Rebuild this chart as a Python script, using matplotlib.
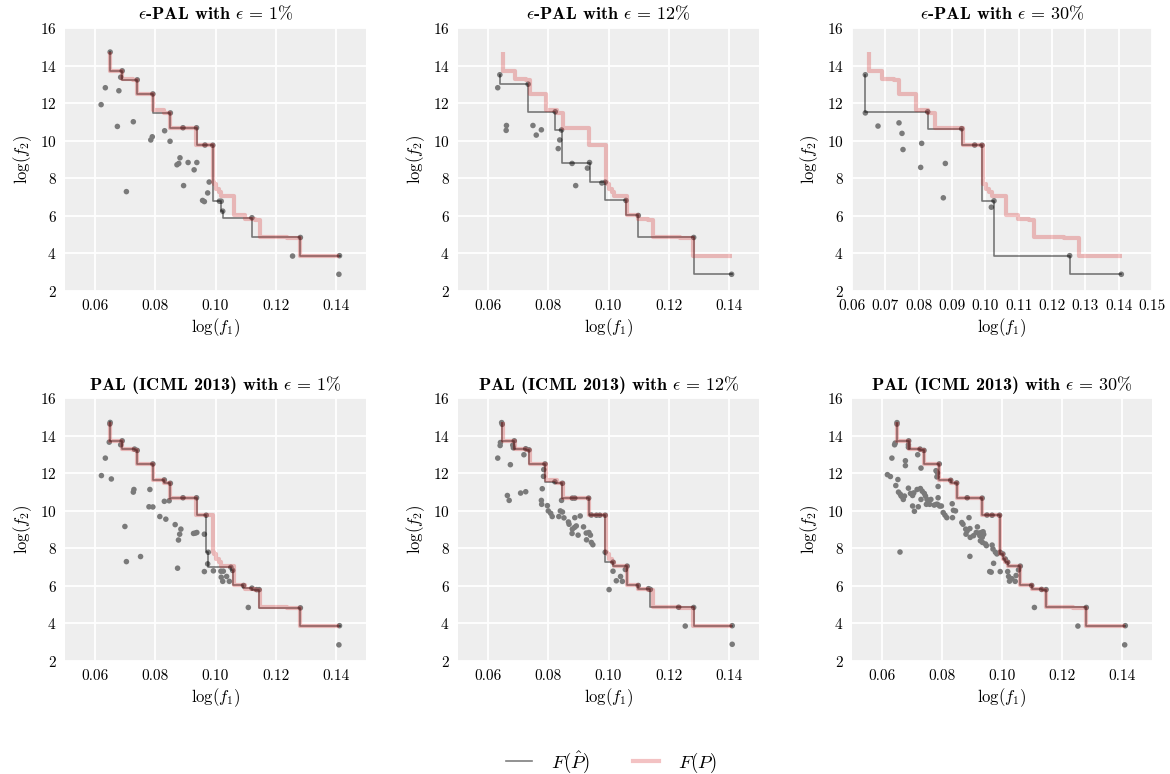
import matplotlib
matplotlib.use('Agg')
import matplotlib.pyplot as plt
from matplotlib.lines import Line2D
import numpy as np

plt.rcParams.update({
    'font.family': ['cmr10', 'DejaVu Serif'],
    'mathtext.fontset': 'cm',
    'axes.formatter.use_mathtext': True,
    'axes.unicode_minus': False,
})

# ---------------- data ----------------
titles = [r'$\epsilon$-PAL with $\epsilon \,=\, 1\%$',
          r'$\epsilon$-PAL with $\epsilon \,=\, 12\%$',
          r'$\epsilon$-PAL with $\epsilon \,=\, 30\%$',
          r'PAL (ICML 2013) with $\epsilon \,=\, 1\%$',
          r'PAL (ICML 2013) with $\epsilon \,=\, 12\%$',
          r'PAL (ICML 2013) with $\epsilon \,=\, 30\%$']

# true Pareto front F(P)
true_f1 = [0.0650, 0.0689, 0.0727, 0.0740, 0.0791, 0.0829, 0.0849, 0.0884, 0.0934,
           0.0950, 0.0967, 0.0992, 0.0994, 0.1003, 0.1011, 0.1019, 0.1061, 0.1099,
           0.1132, 0.1147, 0.1236, 0.1281, 0.1411]
true_f2 = [14.70, 13.72, 13.28, 13.21, 12.49, 11.62, 11.48, 10.69, 10.67,
           9.77, 9.76, 9.76, 7.79, 7.70, 7.43, 7.26, 7.05, 6.02,
           5.81, 5.80, 4.87, 4.82, 3.88]

# sampled points, panel 1 (eps-PAL, 1%)
p1_f1 = [0.0650, 0.0690, 0.0685, 0.0634, 0.0679, 0.0620, 0.0674, 0.0727, 0.0740, 0.0792,
         0.0790, 0.0785, 0.0831, 0.0849, 0.0850, 0.0892, 0.0937, 0.0882, 0.0872, 0.0878,
         0.0909, 0.0938, 0.0929, 0.0894, 0.0704, 0.0965, 0.0991, 0.0979, 0.0974, 0.0957,
         0.0963, 0.1013, 0.1019, 0.1024, 0.1121, 0.1282, 0.1256, 0.1412, 0.1410]
p1_f2 = [14.72, 13.72, 13.38, 12.82, 12.66, 11.92, 10.76, 11.01, 13.24, 12.49,
         10.21, 10.04, 10.53, 9.97, 11.48, 10.69, 10.69, 9.09, 8.72, 8.79,
         8.84, 8.84, 8.45, 7.61, 7.29, 9.77, 9.76, 7.80, 7.22, 6.82,
         6.76, 6.78, 6.78, 6.25, 5.90, 4.85, 3.86, 3.88, 2.89]

# panel 2 (eps-PAL, 12%)
p2_f1 = [0.0639, 0.0632, 0.0661, 0.0660, 0.0733, 0.0749, 0.0760, 0.0777, 0.0823, 0.0844,
         0.0838, 0.0833, 0.0879, 0.0937, 0.0930, 0.0891, 0.0978, 0.0989, 0.1058, 0.1099,
         0.1283, 0.1409]
p2_f2 = [13.51, 12.82, 10.81, 10.55, 13.01, 10.81, 10.30, 10.58, 11.54, 10.57,
         10.04, 9.58, 8.79, 8.84, 8.54, 7.61, 7.75, 7.79, 6.82, 6.02,
         4.85, 2.89]

# panel 3 (eps-PAL, 30%)
p3_f1 = [0.0640, 0.0640, 0.0678, 0.0741, 0.0750, 0.0753, 0.0809, 0.0806, 0.0827, 0.0880,
         0.0874, 0.0929, 0.0968, 0.0990, 0.1018, 0.1026, 0.1253, 0.1408]
p3_f2 = [13.51, 11.48, 10.78, 10.95, 10.39, 9.53, 9.86, 8.58, 11.54, 8.79,
         6.96, 10.64, 9.77, 9.76, 6.46, 6.80, 3.88, 2.89]

# panel 4 (PAL, 1%)
p4_f1 = [0.0650, 0.0649, 0.0690, 0.0647, 0.0685, 0.0731, 0.0740, 0.0634, 0.0792, 0.0621,
         0.0654, 0.0830, 0.0850, 0.0729, 0.0727, 0.0782, 0.0830, 0.0846, 0.0892, 0.0937,
         0.0779, 0.0792, 0.0969, 0.0815, 0.0835, 0.0866, 0.0885, 0.0881, 0.0877, 0.0927,
         0.0933, 0.0938, 0.0963, 0.0699, 0.0751, 0.0704, 0.0874, 0.0976, 0.0974, 0.1051,
         0.1057, 0.0963, 0.0993, 0.1018, 0.1026, 0.1019, 0.1037, 0.1024, 0.1046, 0.1093,
         0.1121, 0.1137, 0.1145, 0.1109, 0.1282, 0.1412, 0.1410]
p4_f2 = [14.70, 14.62, 13.72, 13.65, 13.51, 13.28, 13.21, 12.80, 12.49, 11.87,
         11.69, 11.64, 11.46, 11.13, 10.99, 11.13, 10.50, 10.53, 10.69, 10.69,
         10.21, 10.20, 9.76, 9.69, 9.55, 9.26, 9.02, 8.75, 8.44, 8.79,
         8.81, 8.84, 8.75, 9.16, 7.56, 7.29, 6.94, 7.79, 7.17, 6.99,
         6.82, 6.76, 6.80, 6.78, 6.78, 6.46, 6.50, 6.24, 6.24, 6.02,
         5.88, 5.80, 5.80, 4.85, 4.83, 3.88, 2.86]

# panel 5 (PAL, 12%)
p5_f1 = [0.0645, 0.0647, 0.0641, 0.0640, 0.0687, 0.0682, 0.0684, 0.0725, 0.0736, 0.0719,
         0.0632, 0.0674, 0.0789, 0.0785, 0.0784, 0.0822, 0.0847, 0.0780, 0.0664, 0.0670,
         0.0708, 0.0725, 0.0777, 0.0778, 0.0844, 0.0880, 0.0888, 0.0934, 0.0797, 0.0800,
         0.0808, 0.0813, 0.0835, 0.0840, 0.0847, 0.0852, 0.0867, 0.0869, 0.0888, 0.0906,
         0.0880, 0.0887, 0.0893, 0.0879, 0.0899, 0.0917, 0.0926, 0.0935, 0.0940, 0.0927,
         0.0943, 0.0948, 0.0943, 0.0960, 0.0971, 0.0989, 0.0989, 0.1015, 0.1062, 0.1015,
         0.1026, 0.1040, 0.1046, 0.1056, 0.1002, 0.1099, 0.1133, 0.1139, 0.1233, 0.1283,
         0.1255, 0.1411, 0.1411]
p5_f2 = [14.69, 14.60, 13.63, 13.47, 13.72, 13.49, 13.35, 13.30, 13.24, 12.98,
         12.80, 12.45, 12.49, 12.19, 11.83, 11.54, 11.46, 11.17, 10.81, 10.55,
         10.94, 11.01, 10.55, 10.34, 10.55, 10.67, 10.67, 10.67, 10.27, 9.99,
         9.86, 9.69, 9.69, 9.99, 9.93, 9.62, 9.40, 9.28, 9.63, 9.72,
         9.02, 9.11, 9.19, 8.79, 8.70, 9.14, 8.81, 8.84, 8.70, 8.45,
         8.31, 8.19, 9.77, 9.76, 9.76, 9.76, 7.79, 7.26, 7.05, 6.78,
         6.27, 6.50, 6.24, 6.87, 5.80, 6.02, 5.85, 5.81, 4.86, 4.85,
         3.86, 3.88, 2.89]

# panel 6 (PAL, 30%)
p6_f1 = [0.0650, 0.0650, 0.0689, 0.0727, 0.0740, 0.0791, 0.0829, 0.0849, 0.0884, 0.0934,
         0.0950, 0.0967, 0.0992, 0.0994, 0.1003, 0.1011, 0.1019, 0.1061, 0.1099, 0.1132,
         0.1147, 0.1281, 0.1411,
         0.0642, 0.0644, 0.0688, 0.0688, 0.0633, 0.0678, 0.0678, 0.0719, 0.0730, 0.0780,
         0.0785, 0.0783, 0.0787, 0.0618, 0.0628, 0.0653, 0.0646, 0.0655, 0.0661, 0.0664,
         0.0671, 0.0669, 0.0675, 0.0688, 0.0695, 0.0702, 0.0706, 0.0717, 0.0728, 0.0734,
         0.0730, 0.0741, 0.0745, 0.0750, 0.0748, 0.0754, 0.0759, 0.0763, 0.0774, 0.0781,
         0.0787, 0.0785, 0.0792, 0.0798, 0.0702, 0.0721, 0.0708, 0.0834, 0.0838, 0.0845,
         0.0835, 0.0804, 0.0810, 0.0816, 0.0866, 0.0870, 0.0890, 0.0879, 0.0884, 0.0893,
         0.0880, 0.0894, 0.0905, 0.0918, 0.0914, 0.0923, 0.0931, 0.0937, 0.0926, 0.0934,
         0.0939, 0.0928, 0.0935, 0.0945, 0.0948, 0.0967, 0.0970, 0.0978, 0.0983, 0.0893,
         0.0660, 0.0959, 0.0964, 0.0972, 0.0994, 0.1019, 0.1022, 0.1025, 0.1033, 0.1044,
         0.1047, 0.1055, 0.1108, 0.1253, 0.1409]
p6_f2 = [14.69, 14.61, 13.72, 13.28, 13.21, 12.49, 11.62, 11.48, 10.69, 10.67,
         9.77, 9.76, 9.76, 7.79, 7.70, 7.43, 7.26, 7.05, 6.02, 5.81,
         5.80, 4.85, 3.88,
         13.51, 13.60, 13.51, 13.38, 12.80, 12.66, 12.40, 12.98, 12.27, 12.13,
         12.01, 11.80, 11.29, 11.92, 11.82, 11.66, 11.34, 10.99, 10.88, 10.78,
         10.60, 10.73, 10.78, 11.20, 10.92, 10.81, 10.95, 11.13, 11.18, 11.04,
         10.60, 10.92, 10.78, 10.60, 10.34, 10.43, 10.34, 10.60, 10.30, 10.34,
         10.69, 10.34, 10.25, 10.25, 10.25, 10.21, 9.97, 10.37, 10.02, 9.99,
         9.63, 9.90, 9.76, 9.63, 9.37, 9.28, 9.63, 9.02, 8.93, 9.05,
         8.75, 8.58, 8.67, 9.14, 8.84, 8.81, 8.84, 8.88, 8.67, 8.58,
         8.74, 8.40, 8.31, 8.23, 8.14, 8.17, 7.96, 7.79, 7.70, 7.57,
         7.80, 6.76, 6.73, 7.20, 6.76, 6.76, 6.50, 6.25, 6.38, 6.24,
         6.55, 6.85, 4.85, 3.86, 2.86]

samples = [(p1_f1, p1_f2), (p2_f1, p2_f2), (p3_f1, p3_f2),
           (p4_f1, p4_f2), (p5_f1, p5_f2), (p6_f1, p6_f2)]


def pareto_front(xs, ys):
    """Non-dominated points (both objectives maximised), sorted by f1."""
    pts = list(zip(xs, ys))
    front = []
    for (x, y) in pts:
        dominated = any((x2 >= x and y2 >= y) and (x2 > x or y2 > y) for (x2, y2) in pts)
        if not dominated:
            front.append((x, y))
    front = sorted(set(front))
    return [p[0] for p in front], [p[1] for p in front]


# ---------------- figure ----------------
W, H = 1170, 774
fig = plt.figure(figsize=(W / 100, H / 100), dpi=100)

col_left = [65, 458, 852]
col_w = [301, 301, 300]
row_top = [28, 398]
row_h = 263

bg = '#eeeeee'
dot_c = '#7a7a7a'
pink = '#d62728'

for i in range(6):
    r, c = divmod(i, 3)
    left = col_left[c] / W
    bottom = (H - row_top[r] - row_h) / H
    ax = fig.add_axes([left, bottom, col_w[c] / W, row_h / H])
    ax.set_facecolor(bg)
    for s in ax.spines.values():
        s.set_visible(False)
    ax.grid(True, color='white', linewidth=1.3)
    ax.set_axisbelow(True)

    xs, ys = samples[i]
    ax.scatter(xs, ys, s=16, color=dot_c, edgecolors='none', zorder=3)
    fx, fy = pareto_front(xs, ys)
    ax.plot(fx, fy, drawstyle='steps-pre', color='black', alpha=0.5, lw=1.2, zorder=4)
    ax.plot(true_f1, true_f2, drawstyle='steps-pre', color=pink, alpha=0.28, lw=3.0,
            zorder=5, solid_capstyle='butt')

    ax.set_ylim(2, 16)
    ax.set_yticks([2, 4, 6, 8, 10, 12, 14, 16])
    if c == 2 and r == 0:
        ax.set_xlim(0.06, 0.15)
        ax.set_xticks(np.round(np.arange(0.06, 0.1501, 0.01), 2))
    else:
        ax.set_xlim(0.05, 0.15)
        ax.set_xticks([0.06, 0.08, 0.10, 0.12, 0.14])
    ax.xaxis.set_major_formatter(matplotlib.ticker.FormatStrFormatter('%.2f'))
    ax.tick_params(length=0, labelsize=11, pad=6)
    ax.set_xlabel(r'$\log(f_1)$', fontsize=12, labelpad=2)
    ax.set_ylabel(r'$\log(f_2)$', fontsize=12, labelpad=4)
    ax.set_title(titles[i], fontsize=13, fontfamily=['cmb10', 'DejaVu Serif'], pad=6)

handles = [Line2D([], [], color='black', alpha=0.5, lw=1.2),
           Line2D([], [], color=pink, alpha=0.28, lw=3.0)]
fig.legend(handles, [r'$F(\hat{P})$', r'$F(P)$'], loc='center', ncol=2,
           bbox_to_anchor=(611 / W, 1 - 762 / H), frameon=False, fontsize=13.5,
           handlelength=1.4, columnspacing=2.3, handletextpad=1.0)

fig.savefig('out.png', dpi=100)
